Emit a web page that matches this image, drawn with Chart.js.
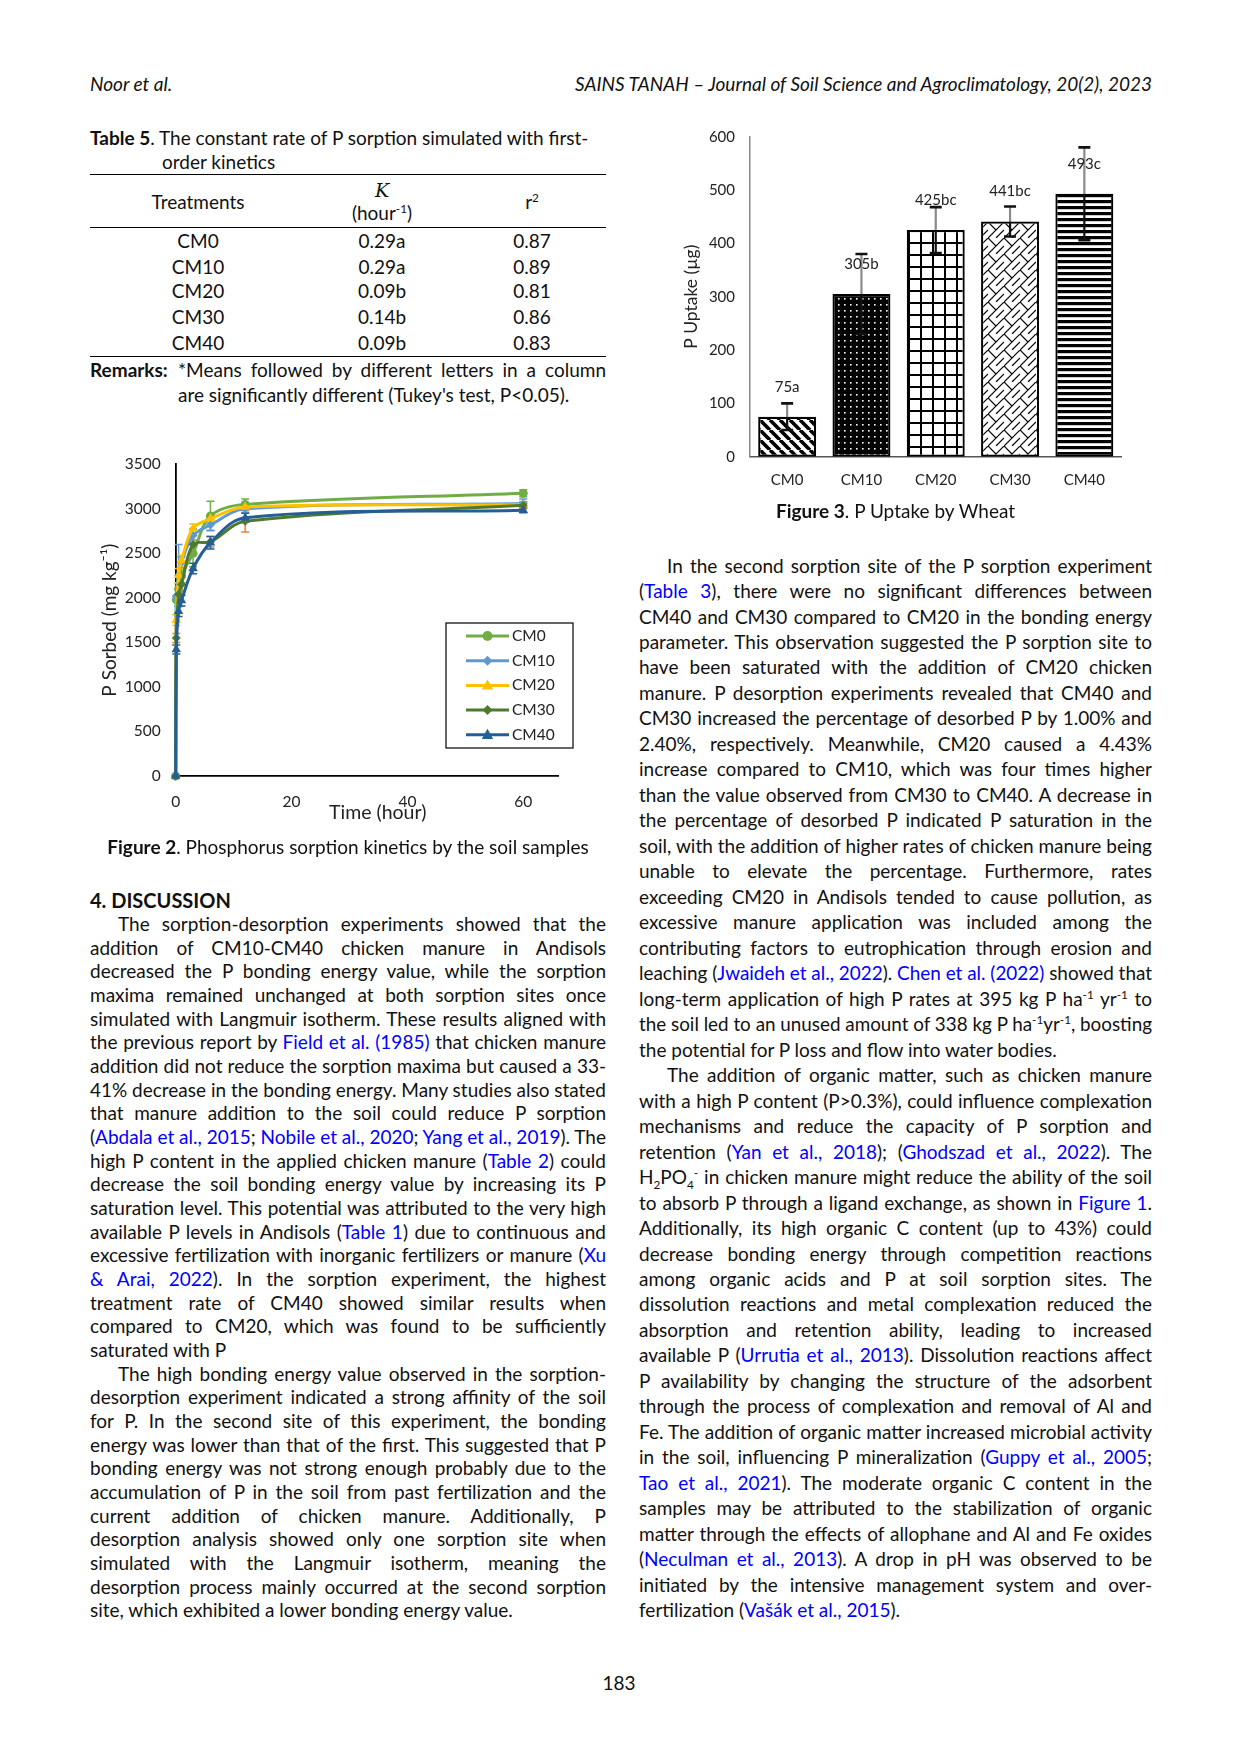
<!DOCTYPE html>
<html>
<head>
<meta charset="utf-8">
<script src="https://cdn.jsdelivr.net/npm/chart.js@4.4.0/dist/chart.umd.min.js"></script>
<style>
html, body { margin: 0; padding: 0; background: #fff; }
#page { position: relative; width: 1241px; height: 1754px; overflow: hidden; font-family: Lato, "Open Sans", sans-serif; font-size: 19px; color: #111; }
.t { position: absolute; white-space: nowrap; line-height: 24px; height: 24px; }
.c { text-align: center; }
.ln { position: absolute; white-space: nowrap; line-height: 24px; height: 24px; text-align: justify; }
.ln.j { text-align-last: justify; }
.lk { color: #0000ff; }
sup, sub { font-size: 0.62em; line-height: 0; }
.rule { position: absolute; height: 0; border-top: 1.5px solid #000; }
.box { position: absolute; }
</style>
</head>
<body>
<div id="page">
  <div class="t" style="left:90px;top:72px;font-style:italic;">Noor et al.</div>
  <div class="t" style="right:89px;top:72px;font-style:italic;">SAINS TANAH – Journal of Soil Science and Agroclimatology, 20(2), 2023</div>

  <!-- Table 5 -->
  <div class="t" style="left:90px;top:126px;"><b>Table 5</b>. The constant rate of P sorption simulated with first-</div>
  <div class="t" style="left:162px;top:150px;">order kinetics</div>
  <div class="rule" style="left:90px;width:516px;top:174px;"></div>
  <div class="t c" style="left:98px;width:200px;top:190px;">Treatments</div>
  <div class="t c" style="left:282px;width:200px;top:178px;font-family:'DejaVu Serif',serif;font-style:italic;">K</div>
  <div class="t c" style="left:282px;width:200px;top:201px;">(hour<sup>-1</sup>)</div>
  <div class="t c" style="left:432px;width:200px;top:190px;">r<sup>2</sup></div>
  <div class="rule" style="left:90px;width:516px;top:226.5px;"></div>
  <div id="tbl"></div>
  <div class="rule" style="left:90px;width:516px;top:355.5px;"></div>
  <div class="t" style="left:90px;top:357.5px;"><b>Remarks:</b></div>
  <div class="ln j" style="left:178px;width:428px;top:357.5px;">*Means followed by different letters in a column</div>
  <div class="t" style="left:178px;top:383.3px;">are significantly different (Tukey's test, P&lt;0.05).</div>

  <!-- Figure 2 -->
  <div class="box" style="left:90px;top:440px;width:520px;height:400px;"><canvas id="kinetics"></canvas></div>
  <div class="t c" style="left:90px;width:516px;top:834.6px;"><b>Figure 2</b>. Phosphorus sorption kinetics by the soil samples</div>

  <!-- Figure 3 -->
  <div class="box" style="left:620px;top:110px;width:560px;height:390px;"><canvas id="uptake"></canvas></div>
  <div class="t c" style="left:639px;width:513px;top:498.6px;"><b>Figure 3</b>. P Uptake by Wheat</div>

  <div class="t" style="left:90px;top:888.3px;font-weight:bold;font-size:20px;">4. DISCUSSION</div>
  <div id="textL"></div>
  <div id="textR"></div>

  <div class="t c" style="left:519px;width:200px;top:1671px;">183</div>
</div>

<script>
// ---- Figure 2 data: P sorbed (mg/kg) over time (hour) ----
const hours = [0, 0.1, 0.5, 1, 3, 6, 12, 60];
const xTicks = [0, 20, 40, 60];
const seriesNames = ['CM0', 'CM10', 'CM20', 'CM30', 'CM40'];
const cm0  = [0, 1980, 2100, 2250, 2500, 2920, 3050, 3175];
const cm10 = [0, 2020, 2250, 2400, 2700, 2820, 3000, 3060];
const cm20 = [0, 1750, 2250, 2420, 2780, 2890, 3020, 3045];
const cm30 = [0, 1550, 2040, 2150, 2600, 2630, 2860, 3040];
const cm40 = [0, 1420, 1850, 1970, 2330, 2620, 2900, 2985];
const cm0Err  = [0, 0, 60, 80, 150, 165, 60, 40];
const cm10Err = [0, 0, 350, 60, 80, 60, 40, 50];
const cm20Err = [0, 60, 80, 60, 50, 40, 30, 30];
const cm30Err = [0, 50, 60, 80, 110, 60, 120, 40];
const cm40Err = [0, 50, 60, 60, 60, 70, 50, 30];

// ---- Figure 3 data: P uptake (ug) ----
const treatments = ['CM0', 'CM10', 'CM20', 'CM30', 'CM40'];
const uptake = [75, 305, 425, 441, 493];
const uptakeErr = [25, 75, 43, 28, 87];
const uptakeLabels = ['75a', '305b', '425bc', '441bc', '493c'];

// ---- Table 5 ----
const tblK = ['0.29a', '0.29a', '0.09b', '0.14b', '0.09b'];
const tblR2 = ['0.87', '0.89', '0.81', '0.86', '0.83'];

Chart.defaults.font.family = 'Lato, "Open Sans", sans-serif';
Chart.defaults.color = '#333';

function drawMarker(ctx, style, x, y, r, color) {
    ctx.fillStyle = color;
    ctx.beginPath();
    if (style === 'circle') {
        ctx.arc(x, y, r, 0, Math.PI * 2);
    } else if (style === 'rectRot') {
        ctx.moveTo(x, y - r); ctx.lineTo(x + r, y); ctx.lineTo(x, y + r); ctx.lineTo(x - r, y); ctx.closePath();
    } else {
        ctx.moveTo(x, y - r); ctx.lineTo(x + r * 0.95, y + r * 0.7); ctx.lineTo(x - r * 0.95, y + r * 0.7); ctx.closePath();
    }
    ctx.fill();
}

const errorBars = {
    id: 'errorBars',
    draw(chart) {
        const ctx = chart.ctx;
        const ys = chart.scales.y;
        chart.data.datasets.forEach((ds, di) => {
            if (!ds.errors) return;
            const meta = chart.getDatasetMeta(di);
            ctx.save();
            meta.data.forEach((el, i) => {
                const e = ds.errors[i];
                if (!e) return;
                const v = typeof ds.data[i] === 'object' ? ds.data[i].y : ds.data[i];
                const top = ys.getPixelForValue(v + e);
                const mid = ys.getPixelForValue(v);
                const bot = ys.getPixelForValue(v - e);
                const cw = ds.capWidth || 4;
                ctx.lineWidth = ds.errorWidth || 1.5;
                ctx.strokeStyle = ds.errorColor;
                ctx.beginPath(); ctx.moveTo(el.x, top); ctx.lineTo(el.x, mid); ctx.stroke();
                ctx.strokeStyle = ds.errorColorBelow || ds.errorColor;
                ctx.beginPath(); ctx.moveTo(el.x, mid); ctx.lineTo(el.x, bot); ctx.stroke();
                ctx.strokeStyle = ds.capColor || ds.errorColor;
                ctx.lineWidth = ds.capLineWidth || 1.5;
                ctx.beginPath();
                ctx.moveTo(el.x - cw, top); ctx.lineTo(el.x + cw, top);
                ctx.moveTo(el.x - cw, bot); ctx.lineTo(el.x + cw, bot);
                ctx.stroke();
            });
            ctx.restore();
        });
    },
    beforeDatasetsDraw(chart, args, opts) { if (opts.behind) this.draw(chart); },
    afterDatasetsDraw(chart, args, opts) { if (!opts.behind) this.draw(chart); }
};

const legendBox = {
    id: 'legendBox',
    afterDraw(chart, args, o) {
        if (!o || !o.w) return;
        const ctx = chart.ctx;
        ctx.save();
        ctx.fillStyle = '#fff';
        ctx.fillRect(o.x, o.y, o.w, o.h);
        ctx.strokeStyle = '#000';
        ctx.lineWidth = 1.2;
        ctx.strokeRect(o.x, o.y, o.w, o.h);
        chart.data.datasets.forEach((ds, i) => {
            const cy = o.y + o.first + i * o.step;
            ctx.strokeStyle = ds.borderColor;
            ctx.lineWidth = 3;
            ctx.beginPath(); ctx.moveTo(o.x + o.lineStart, cy); ctx.lineTo(o.x + o.lineEnd, cy); ctx.stroke();
            drawMarker(ctx, ds.pointStyle, o.x + (o.lineStart + o.lineEnd) / 2, cy, ds.pointRadius + 0.5, ds.borderColor);
            ctx.fillStyle = '#222';
            ctx.font = '15.5px Lato, sans-serif';
            ctx.textBaseline = 'middle';
            ctx.fillText(ds.label, o.x + o.textX, cy);
        });
        ctx.restore();
    }
};

// x axis caption of Figure 2 sits a little right of the plot centre, as in the print
const xCaption = {
    id: 'xCaption',
    afterDraw(chart, args, o) {
        if (!o || !o.text) return;
        const ctx = chart.ctx;
        ctx.save();
        ctx.fillStyle = '#222';
        ctx.font = '19.5px Lato, sans-serif';
        ctx.textAlign = 'center';
        ctx.textBaseline = 'middle';
        ctx.fillText(o.text, o.x, o.y);
        ctx.restore();
    }
};

const barLabels = {
    id: 'barLabels',
    afterDatasetsDraw(chart) {
        const ctx = chart.ctx;
        const meta = chart.getDatasetMeta(0);
        ctx.save();
        ctx.fillStyle = '#222';
        ctx.font = '15px Lato, sans-serif';
        ctx.textAlign = 'center';
        ctx.textBaseline = 'middle';
        meta.data.forEach((bar, i) => ctx.fillText(uptakeLabels[i], bar.x, bar.y - 30));
        ctx.restore();
    }
};

// ---- Figure 2 ----
const lineColors = ['#70AD47', '#5B9BD5', '#FFC000', '#4E7A2E', '#255E96'];
const errColors = ['#70AD47', '#5B9BD5', '#FFC000', '#ED7D31', '#255E96'];
const pointStyles = ['circle', 'rectRot', 'triangle', 'rectRot', 'triangle'];
const pointSizes = [4.5, 4.5, 5.5, 4.5, 5.5];
const seriesVals = [cm0, cm10, cm20, cm30, cm40];
const seriesErrs = [cm0Err, cm10Err, cm20Err, cm30Err, cm40Err];

new Chart(document.getElementById('kinetics'), {
    type: 'line',
    data: {
        datasets: seriesNames.map((name, s) => ({
            label: name,
            data: hours.map((h, i) => ({ x: h, y: seriesVals[s][i] })),
            errors: seriesErrs[s],
            errorColor: errColors[s],
            borderColor: lineColors[s],
            backgroundColor: lineColors[s],
            borderWidth: 3,
            pointStyle: pointStyles[s],
            pointRadius: pointSizes[s],
            pointBorderWidth: 0,
            tension: 0.35,
            order: seriesNames.length - s,
            clip: 10
        }))
    },
    options: {
        responsive: true,
        maintainAspectRatio: false,
        animation: false,
        layout: { padding: { top: 15, right: 52, left: 0, bottom: 0 } },
        plugins: {
            legend: { display: false },
            tooltip: { enabled: false },
            errorBars: { behind: true },
            legendBox: { x: 356, y: 183, w: 127, h: 125, first: 13, step: 24.7, lineStart: 20, lineEnd: 63, textX: 66 },
            xCaption: { text: 'Time (hour)', x: 287.7, y: 373 }
        },
        scales: {
            x: {
                type: 'linear', min: 0, max: 66,
                afterBuildTicks: axis => { axis.ticks = xTicks.map(v => ({ value: v })); },
                afterFit: s => { s.height = 64; },
                grid: { display: false, drawTicks: false },
                border: { display: true, color: '#000', width: 1.8 },
                ticks: { padding: 17, font: { size: 15.5 }, color: '#222', maxRotation: 0, callback: v => String(v) }
            },
            y: {
                min: 0, max: 3500,
                afterFit: s => { s.width = 85.7; },
                grid: { display: false, drawTicks: false },
                border: { display: true, color: '#000', width: 1.8 },
                ticks: { stepSize: 500, padding: 15, font: { size: 15.5 }, color: '#222', callback: v => String(v) },
                title: { display: true, text: 'P Sorbed (mg kg⁻¹)', font: { size: 19 }, color: '#222', padding: { top: 8.6, bottom: 0 } }
            }
        }
    },
    plugins: [errorBars, legendBox, xCaption]
});

// ---- Figure 3 ----
function makePattern(kind) {
    const c = document.createElement('canvas');
    const g = c.getContext('2d');
    if (kind === 'diag') {
        c.width = c.height = 10;
        g.fillStyle = '#fff'; g.fillRect(0, 0, 10, 10);
        g.strokeStyle = '#000'; g.lineWidth = 3.6;
        g.beginPath();
        for (let k = -1; k <= 1; k++) { g.moveTo(k * 10, 0); g.lineTo(k * 10 + 10, 10); }
        g.stroke();
    } else if (kind === 'dots') {
        c.width = c.height = 6;
        g.fillStyle = '#000'; g.fillRect(0, 0, 6, 6);
        g.fillStyle = '#fff'; g.fillRect(2, 2, 1.6, 1.6);
    } else if (kind === 'grid') {
        c.width = c.height = 12;
        g.fillStyle = '#fff'; g.fillRect(0, 0, 12, 12);
        g.fillStyle = '#000'; g.fillRect(0, 0, 2, 12); g.fillRect(0, 0, 12, 2);
    } else if (kind === 'weave') {
        c.width = c.height = 16;
        g.fillStyle = '#fff'; g.fillRect(0, 0, 16, 16);
        g.strokeStyle = '#000'; g.lineWidth = 1.2;
        g.beginPath();
        g.moveTo(-1, 17); g.lineTo(17, -1);
        g.moveTo(0, 0); g.lineTo(8, 8);
        g.moveTo(8, 16); g.lineTo(16, 8);
        g.stroke();
    } else {
        c.width = c.height = 6;
        g.fillStyle = '#fff'; g.fillRect(0, 0, 6, 6);
        g.fillStyle = '#000'; g.fillRect(0, 0, 6, 3.2);
    }
    return document.createElement('canvas').getContext('2d').createPattern(c, 'repeat');
}
const barPatterns = ['diag', 'dots', 'grid', 'weave', 'hstripes'].map(makePattern);

new Chart(document.getElementById('uptake'), {
    type: 'bar',
    data: {
        labels: treatments,
        datasets: [{
            data: uptake,
            errors: uptakeErr,
            errorColor: '#8a8a8a',
            errorColorBelow: '#111',
            errorWidth: 2.2,
            capColor: '#111',
            capLineWidth: 2.6,
            capWidth: 6,
            backgroundColor: barPatterns,
            borderColor: '#000',
            borderWidth: 2.2,
            borderSkipped: false,
            barPercentage: 0.78,
            categoryPercentage: 1.0
        }]
    },
    options: {
        responsive: true,
        maintainAspectRatio: false,
        animation: false,
        layout: { padding: { top: 26.7, right: 58.5, left: 0, bottom: 0 } },
        plugins: { legend: { display: false }, tooltip: { enabled: false }, errorBars: { behind: false } },
        scales: {
            x: {
                afterFit: s => { s.height = 43.3; },
                grid: { display: false, drawTicks: false },
                border: { display: true, color: '#555', width: 1.5 },
                ticks: { padding: 14, font: { size: 15 }, color: '#222' }
            },
            y: {
                min: 0, max: 600,
                afterFit: s => { s.width = 130; },
                grid: { display: false, drawTicks: false },
                border: { display: true, color: '#8a8a8a', width: 1.5 },
                ticks: { stepSize: 100, padding: 15, font: { size: 15 }, color: '#222' },
                title: { display: true, text: 'P Uptake (µg)', font: { size: 17.5 }, color: '#222', padding: { top: 61.2, bottom: 0 } }
            }
        }
    },
    plugins: [errorBars, barLabels]
});

// ---- table rows ----
const tblRows = [240.8, 266.5, 291.1, 316.9, 342.7];
document.getElementById('tbl').innerHTML = treatments.map((t, i) => {
    const top = tblRows[i] - 12;
    return `<div class="t c" style="left:98px;width:200px;top:${top}px;">${t}</div>` +
           `<div class="t c" style="left:282px;width:200px;top:${top}px;">${tblK[i]}</div>` +
           `<div class="t c" style="left:432px;width:200px;top:${top}px;">${tblR2[i]}</div>`;
}).join('');

// ---- body text, one entry per printed line ----
const L = s => `<span class="lk">${s}</span>`;
const leftLines = [
    ['i', 'The sorption-desorption experiments showed that the'],
    ['', 'addition of CM10-CM40 chicken manure in Andisols'],
    ['', 'decreased the P bonding energy value, while the sorption'],
    ['', 'maxima remained unchanged at both sorption sites once'],
    ['', 'simulated with Langmuir isotherm. These results aligned with'],
    ['', `the previous report by ${L('Field et al. (1985)')} that chicken manure`],
    ['', 'addition did not reduce the sorption maxima but caused a 33-'],
    ['', '41% decrease in the bonding energy. Many studies also stated'],
    ['', 'that manure addition to the soil could reduce P sorption'],
    ['', `(${L('Abdala et al., 2015')}; ${L('Nobile et al., 2020')}; ${L('Yang et al., 2019')}). The`],
    ['', `high P content in the applied chicken manure (${L('Table 2')}) could`],
    ['', 'decrease the soil bonding energy value by increasing its P'],
    ['', 'saturation level. This potential was attributed to the very high'],
    ['', `available P levels in Andisols (${L('Table 1')}) due to continuous and`],
    ['', `excessive fertilization with inorganic fertilizers or manure (${L('Xu')}`],
    ['', `${L('&amp; Arai, 2022')}). In the sorption experiment, the highest`],
    ['', 'treatment rate of CM40 showed similar results when'],
    ['', 'compared to CM20, which was found to be sufficiently'],
    ['e', 'saturated with P'],
    ['i', 'The high bonding energy value observed in the sorption-'],
    ['', 'desorption experiment indicated a strong affinity of the soil'],
    ['', 'for P. In the second site of this experiment, the bonding'],
    ['', 'energy was lower than that of the first. This suggested that P'],
    ['', 'bonding energy was not strong enough probably due to the'],
    ['', 'accumulation of P in the soil from past fertilization and the'],
    ['', 'current addition of chicken manure. Additionally, P'],
    ['', 'desorption analysis showed only one sorption site when'],
    ['', 'simulated with the Langmuir isotherm, meaning the'],
    ['', 'desorption process mainly occurred at the second sorption'],
    ['e', 'site, which exhibited a lower bonding energy value.']
];
const rightLines = [
    ['i', 'In the second sorption site of the P sorption experiment'],
    ['', `(${L('Table 3')}), there were no significant differences between`],
    ['', 'CM40 and CM30 compared to CM20 in the bonding energy'],
    ['', 'parameter. This observation suggested the P sorption site to'],
    ['', 'have been saturated with the addition of CM20 chicken'],
    ['', 'manure. P desorption experiments revealed that CM40 and'],
    ['', 'CM30 increased the percentage of desorbed P by 1.00% and'],
    ['', '2.40%, respectively. Meanwhile, CM20 caused a 4.43%'],
    ['', 'increase compared to CM10, which was four times higher'],
    ['', 'than the value observed from CM30 to CM40. A decrease in'],
    ['', 'the percentage of desorbed P indicated P saturation in the'],
    ['', 'soil, with the addition of higher rates of chicken manure being'],
    ['', 'unable to elevate the percentage. Furthermore, rates'],
    ['', 'exceeding CM20 in Andisols tended to cause pollution, as'],
    ['', 'excessive manure application was included among the'],
    ['', 'contributing factors to eutrophication through erosion and'],
    ['', `leaching (${L('Jwaideh et al., 2022')}). ${L('Chen et al. (2022)')} showed that`],
    ['', 'long-term application of high P rates at 395 kg P ha<sup>-1</sup> yr<sup>-1</sup> to'],
    ['', 'the soil led to an unused amount of 338 kg P ha<sup>-1</sup>yr<sup>-1</sup>, boosting'],
    ['e', 'the potential for P loss and flow into water bodies.'],
    ['i', 'The addition of organic matter, such as chicken manure'],
    ['', 'with a high P content (P&gt;0.3%), could influence complexation'],
    ['', 'mechanisms and reduce the capacity of P sorption and'],
    ['', `retention (${L('Yan et al., 2018')}); (${L('Ghodszad et al., 2022')}). The`],
    ['', 'H<sub>2</sub>PO<sub>4</sub><sup>-</sup> in chicken manure might reduce the ability of the soil'],
    ['', `to absorb P through a ligand exchange, as shown in ${L('Figure 1')}.`],
    ['', 'Additionally, its high organic C content (up to 43%) could'],
    ['', 'decrease bonding energy through competition reactions'],
    ['', 'among organic acids and P at soil sorption sites. The'],
    ['', 'dissolution reactions and metal complexation reduced the'],
    ['', 'absorption and retention ability, leading to increased'],
    ['', `available P (${L('Urrutia et al., 2013')}). Dissolution reactions affect`],
    ['', 'P availability by changing the structure of the adsorbent'],
    ['', 'through the process of complexation and removal of Al and'],
    ['', 'Fe. The addition of organic matter increased microbial activity'],
    ['', `in the soil, influencing P mineralization (${L('Guppy et al., 2005')};`],
    ['', `${L('Tao et al., 2021')}). The moderate organic C content in the`],
    ['', 'samples may be attributed to the stabilization of organic'],
    ['', 'matter through the effects of allophane and Al and Fe oxides'],
    ['', `(${L('Neculman et al., 2013')}). A drop in pH was observed to be`],
    ['', 'initiated by the intensive management system and over-'],
    ['e', `fertilization (${L('Vašák et al., 2015')}).`]
];

function placeLines(target, lines, x, w, firstCenter, step) {
    document.getElementById(target).innerHTML = lines.map((ln, k) => {
        const ind = ln[0] === 'i' ? 28 : 0;
        const top = (firstCenter + k * step - 12).toFixed(1);
        return `<div class="ln" data-e="${ln[0] === 'e' ? 1 : 0}" style="left:${x + ind}px;width:${w - ind}px;top:${top}px;"><span class="in">${ln[1]}</span></div>`;
    }).join('');
}
placeLines('textL', leftLines, 90, 516, 923.8, 23.67);
placeLines('textR', rightLines, 639, 513, 565.5, 25.48);

function fitLines() {
    document.querySelectorAll('.ln').forEach(el => {
        const span = el.querySelector('.in');
        if (!span) return;
        el.classList.remove('j');
        span.style.transform = '';
        span.style.display = '';
        const avail = el.clientWidth;
        const nat = span.getBoundingClientRect().width;
        if (nat > avail) {
            span.style.display = 'inline-block';
            span.style.transformOrigin = 'left center';
            span.style.transform = 'scaleX(' + (avail / nat).toFixed(4) + ')';
        } else if (el.dataset.e !== '1') {
            el.classList.add('j');
        }
    });
}
fitLines();
if (document.fonts && document.fonts.ready) document.fonts.ready.then(fitLines);
</script>
</body>
</html>
